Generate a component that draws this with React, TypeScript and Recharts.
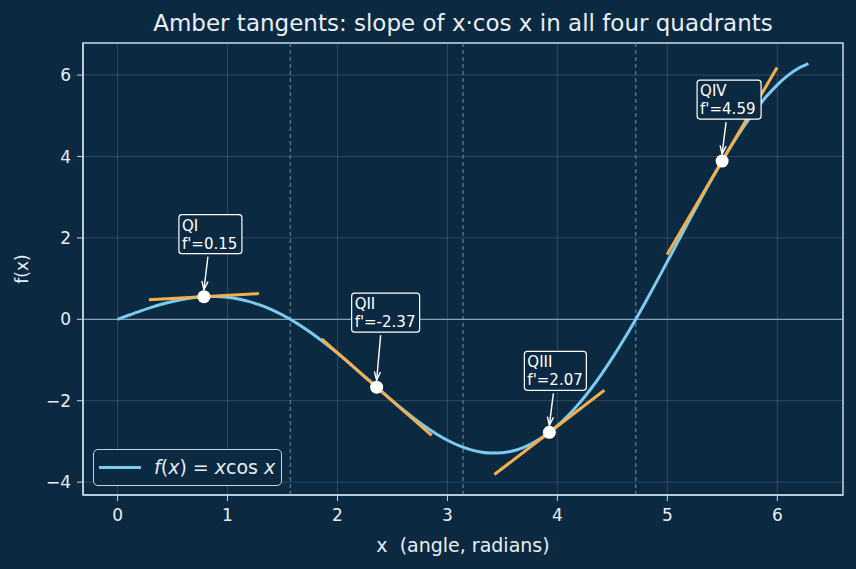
import React from "react";
import {
  ComposedChart, Line, Scatter, XAxis, YAxis, CartesianGrid,
  ReferenceLine, ReferenceArea,
} from "recharts";

// f(x) = x cos x, sampled
const xs = [
  0, 0.1, 0.2, 0.3, 0.4, 0.5, 0.6, 0.7, 0.8, 0.9, 1.0, 1.1, 1.2, 1.3, 1.4, 1.5,
  1.6, 1.7, 1.8, 1.9, 2.0, 2.1, 2.2, 2.3, 2.4, 2.5, 2.6, 2.7, 2.8, 2.9, 3.0, 3.1,
  3.2, 3.3, 3.4, 3.5, 3.6, 3.7, 3.8, 3.9, 4.0, 4.1, 4.2, 4.3, 4.4, 4.5, 4.6, 4.7,
  4.8, 4.9, 5.0, 5.1, 5.2, 5.3, 5.4, 5.5, 5.6, 5.7, 5.8, 5.9, 6.0, 6.1, 6.2, 6.2832,
];
const fx = [
  0, 0.0995, 0.196, 0.2866, 0.3684, 0.4388, 0.4952, 0.5354, 0.5574, 0.5594, 0.5403,
  0.499, 0.4348, 0.3478, 0.238, 0.1061, -0.0467, -0.219, -0.409, -0.6143, -0.8323,
  -1.0602, -1.2947, -1.5324, -1.7697, -2.0029, -2.2279, -2.441, -2.6382, -2.8158,
  -2.97, -3.0973, -3.1945, -3.2587, -3.2871, -3.2776, -3.2283, -3.138, -3.0057,
  -2.8311, -2.6146, -2.3568, -2.0591, -1.7234, -1.3523, -0.9486, -0.5159, -0.0582,
  0.42, 0.9139, 1.4183, 1.9277, 2.4363, 2.9382, 3.4273, 3.8977, 4.3432, 4.7578,
  5.136, 5.4721, 5.761, 5.9979, 6.1785, 6.2832,
];

// tangent segments (x0 ± 0.5)
const tangentQI = [{ x: 0.2854, y: 0.4795 }, { x: 1.2854, y: 0.6312 }];
const tangentQII = [{ x: 1.8562, y: -0.4795 }, { x: 2.8562, y: -2.8527 }];
const tangentQIII = [{ x: 3.427, y: -3.8117 }, { x: 4.427, y: -1.742 }];
const tangentQIV = [{ x: 4.9978, y: 1.5902 }, { x: 5.9978, y: 6.185 }];

// points of tangency
const quadrants = ["QI", "QII", "QIII", "QIV"];
const pointX = [0.7854, 2.3562, 3.927, 5.4978];
const pointY = [0.5554, -1.6661, -2.7768, 3.8876];
const slopes = ["0.15", "-2.37", "2.07", "4.59"];

const boundaries = [1.5708, 3.1416, 4.7124];
const xTicks = [0, 1, 2, 3, 4, 5, 6];
const yTicks = [-4, -2, 0, 2, 4, 6];

// annotation box placement (px, relative to point)
const boxTop = [-82, -94, -81, -81];
const boxW = [63, 68, 62, 64];

const BG = "#0c2942";
const CURVE = "#7ccbf3";
const AMBER = "#f2b04d";
const FG = "#e9eff5";
const SPINE = "#c6d4e2";
const FONT = "'DejaVu Sans', sans-serif";

const curve = xs.map((x, i) => ({ x, y: fx[i] }));
const points = quadrants.map((q, i) => ({
  x: pointX[i], y: pointY[i], label: q, slope: slopes[i], idx: i,
}));

const PointShape = (props: any) => {
  const { cx, cy, payload } = props;
  const i = payload.idx;
  const bx = cx - 25;
  const by = cy + boxTop[i];
  const bh = 39;
  const sx = cx + 4;
  const sy = by + bh + 3;
  const tx = cx;
  const ty = cy - 7;
  const ang = Math.atan2(ty - sy, tx - sx);
  const hl = 9;
  const a1 = ang + Math.PI - 0.35;
  const a2 = ang + Math.PI + 0.35;
  return (
    <g>
      <line x1={sx} y1={sy} x2={tx} y2={ty} stroke="#ffffff" strokeWidth={1.4} />
      <polyline
        points={`${tx + hl * Math.cos(a1)},${ty + hl * Math.sin(a1)} ${tx},${ty} ${tx + hl * Math.cos(a2)},${ty + hl * Math.sin(a2)}`}
        fill="none" stroke="#ffffff" strokeWidth={1.4}
      />
      <rect x={bx} y={by} width={boxW[i]} height={bh} rx={3} fill={BG} stroke="#ffffff" strokeWidth={1.2} />
      <text x={bx + 3} y={by + 16} fill="#ffffff" fontSize={15} fontFamily={FONT}>
        <tspan x={bx + 3}>{payload.label}</tspan>
        <tspan x={bx + 3} dy={18}>{`f'=${payload.slope}`}</tspan>
      </text>
      <circle cx={cx} cy={cy} r={6.5} fill="#ffffff" />
    </g>
  );
};

export default function App() {
  return (
    <div style={{ position: "relative", width: 856, height: 569, background: BG, fontFamily: FONT }}>
      <style>{`body{margin:0}`}</style>
      <div style={{
        position: "absolute", left: 83, width: 760, top: 12, textAlign: "center",
        color: FG, fontSize: 23, lineHeight: "23px",
      }}>
        Amber tangents: slope of x·cos x in all four quadrants
      </div>
      <ComposedChart width={856} height={569} margin={{ top: 43, right: 13, left: 0, bottom: 0 }}>
        <CartesianGrid stroke="#ffffff" strokeOpacity={0.15} />
        <XAxis
          dataKey="x" type="number" domain={[-0.3142, 6.5973]} ticks={xTicks}
          allowDataOverflow height={74} tickSize={6} tickMargin={8}
          tick={{ fill: FG, fontSize: 17, fontFamily: FONT }}
          stroke={SPINE} tickLine={{ stroke: SPINE }} axisLine={{ stroke: SPINE, strokeWidth: 1.5 }}
        />
        <YAxis
          type="number" domain={[-4.316, 6.788]} ticks={yTicks} allowDataOverflow
          width={83} tickSize={6} tickMargin={6}
          tick={{ fill: FG, fontSize: 17, fontFamily: FONT }}
          tickFormatter={(v: number) => (v < 0 ? `\u2212${Math.abs(v)}` : `${v}`)}
          stroke={SPINE} tickLine={{ stroke: SPINE }} axisLine={{ stroke: SPINE, strokeWidth: 1.5 }}
        />
        <ReferenceArea x1={-0.3142} x2={6.5973} y1={-4.316} y2={6.788} fill="none"
          stroke={SPINE} strokeWidth={1.5} />
        {boundaries.map((b) => (
          <ReferenceLine key={b} x={b} stroke="#5f7f9c" strokeDasharray="4 3" strokeWidth={1.2} />
        ))}
        <ReferenceLine y={0} stroke="#a9bfd3" strokeOpacity={0.75} strokeWidth={1.3} />
        <Line data={curve} dataKey="y" type="monotone" stroke={CURVE} strokeWidth={3}
          dot={false} isAnimationActive={false} />
        {[tangentQI, tangentQII, tangentQIII, tangentQIV].map((t, i) => (
          <Line key={i} data={t} dataKey="y" type="linear" stroke={AMBER} strokeWidth={3}
            dot={false} isAnimationActive={false} />
        ))}
        <Scatter data={points} dataKey="y" shape={PointShape} isAnimationActive={false} />
      </ComposedChart>
      <div style={{
        position: "absolute", left: 0, width: 44, top: 269, height: 0,
      }}>
        <div style={{
          position: "absolute", left: 22, top: 0, transform: "translate(-50%,-50%) rotate(-90deg)",
          color: FG, fontSize: 17, whiteSpace: "pre",
        }}>f(x)</div>
      </div>
      <div style={{
        position: "absolute", left: 83, width: 760, top: 536, textAlign: "center",
        color: FG, fontSize: 19, lineHeight: "19px", whiteSpace: "pre",
      }}>
        x  (angle, radians)
      </div>
      <div style={{
        position: "absolute", left: 93, top: 449, width: 187, height: 35,
        border: `1.5px solid ${SPINE}`, borderRadius: 5, background: BG,
      }}>
        <div style={{ position: "absolute", left: 5, top: 16, width: 42, height: 3, background: CURVE }} />
        <div style={{
          position: "absolute", left: 60, top: 6, color: FG, fontSize: 19, lineHeight: "22px", whiteSpace: "pre",
        }}>
          <i>f</i>(<i>x</i>) = <i>x</i>cos <i>x</i>
        </div>
      </div>
    </div>
  );
}
